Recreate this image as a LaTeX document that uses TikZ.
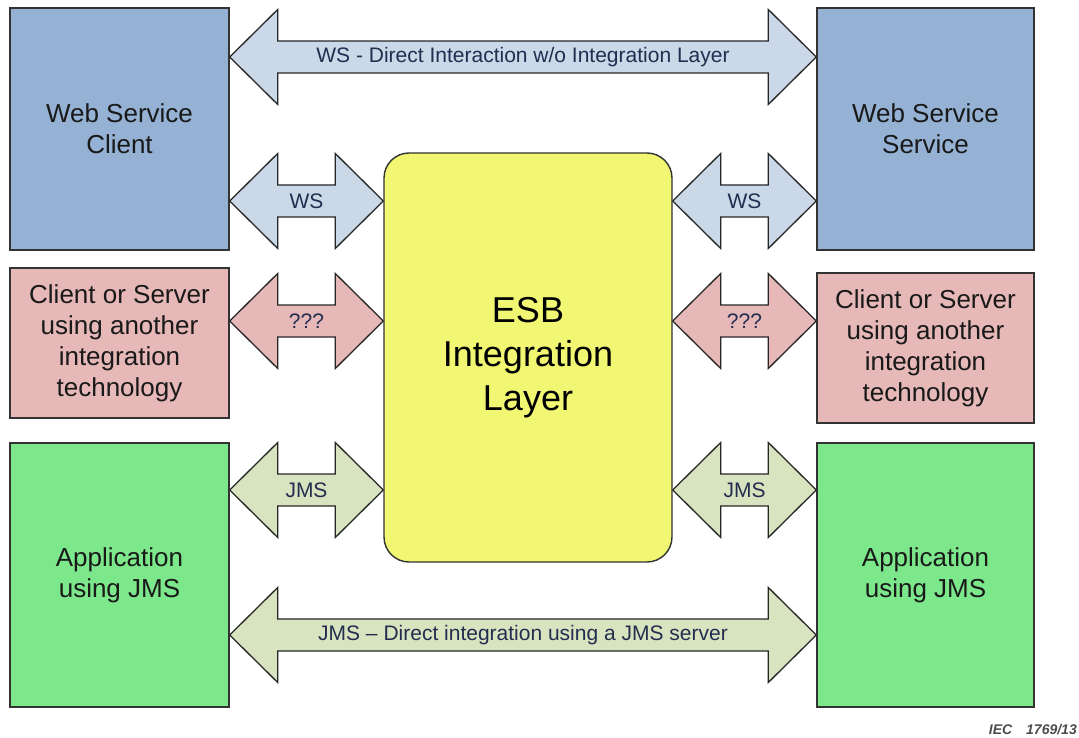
\documentclass[tikz,border=0pt]{standalone}
\usepackage{fontspec}
\setmainfont{Liberation Sans}
\usetikzlibrary{calc}
\definecolor{boxBlue}{RGB}{149,178,212}
\definecolor{arrowBlue}{RGB}{202,216,232}
\definecolor{boxPink}{RGB}{230,185,184}
\definecolor{boxGreen}{RGB}{125,232,139}
\definecolor{arrowGreen}{RGB}{216,228,191}
\definecolor{esbYellow}{RGB}{242,247,115}
\definecolor{labelNavy}{RGB}{35,45,80}

\tikzset{
  sysbox/.style={draw=black!80, line width=1.4pt, minimum width=219pt, align=center,
    font=\fontsize{26}{31}\selectfont, text=black!90},
  arrowbody/.style={draw=black!85, line width=1.3pt, line join=miter},
  arrowlabel/.style={font=\fontsize{21}{24}\selectfont, text=labelNavy},
}

% fat double arrow: fill, from, to, label, name
\newcommand{\bigarrow}[5]{%
  \draw[arrowbody, fill=#1] (#2) -- ++(48,-47.5) -- ++(0,31.5)
    -- ($(#3)+(-48,-16)$) -- ++(0,-31.5) -- (#3) -- ++(-48,47.5) -- ++(0,-31.5)
    -- ($(#2)+(48,16)$) -- ++(0,31.5) -- cycle;
  \node[arrowlabel] (#5) at ($(#2)!0.5!(#3)$) {#4};
}

\begin{document}
\begin{tikzpicture}[x=1pt, y=-1pt]
  \useasboundingbox (0,0) rectangle (1079,738);

  % boxes on both sides
  \node[sysbox, fill=boxBlue, minimum height=242pt] (wsc) at (119.5,129) {Web Service\\Client};
  \node[sysbox, fill=boxBlue, minimum height=242pt, minimum width=217pt] (wss) at (925.5,129) {Web Service\\Service};
  \node[sysbox, fill=boxPink, minimum height=150pt] (oc) at (119.5,343) {Client or Server\\using another\\integration\\technology};
  \node[sysbox, fill=boxPink, minimum height=150pt, minimum width=217pt] (os) at (925.5,348) {Client or Server\\using another\\integration\\technology};
  \node[sysbox, fill=boxGreen, minimum height=264pt] (appc) at (119.5,575) {Application\\using JMS};
  \node[sysbox, fill=boxGreen, minimum height=264pt, minimum width=217pt] (apps) at (925.5,575) {Application\\using JMS};

  % integration layer
  \node[draw=black!80, line width=1.4pt, fill=esbYellow, rounded corners=25pt,
    minimum width=288pt, minimum height=409pt, align=center,
    font=\fontsize{36}{44}\selectfont] (esb) at (528,357.5) {ESB\\Integration\\Layer};

  % row levels of the arrows
  \coordinate (rowTop) at (0,57);
  \coordinate (rowWS) at (0,201);
  \coordinate (rowOther) at (0,321);
  \coordinate (rowJMS) at (0,490);
  \coordinate (rowBottom) at (0,635);

  \bigarrow{arrowBlue}{wsc.east |- rowTop}{wss.west |- rowTop}{WS - Direct Interaction w/o Integration Layer}{wsDirect}
  \bigarrow{arrowBlue}{wsc.east |- rowWS}{esb.west |- rowWS}{WS}{wsLeft}
  \bigarrow{arrowBlue}{esb.east |- rowWS}{wss.west |- rowWS}{WS}{wsRight}
  \bigarrow{boxPink}{oc.east |- rowOther}{esb.west |- rowOther}{???}{otherLeft}
  \bigarrow{boxPink}{esb.east |- rowOther}{os.west |- rowOther}{???}{otherRight}
  \bigarrow{arrowGreen}{appc.east |- rowJMS}{esb.west |- rowJMS}{JMS}{jmsLeft}
  \bigarrow{arrowGreen}{esb.east |- rowJMS}{apps.west |- rowJMS}{JMS}{jmsRight}
  \bigarrow{arrowGreen}{appc.east |- rowBottom}{apps.west |- rowBottom}{JMS – Direct integration using a JMS server}{jmsDirect}

  \node[anchor=east, inner sep=0pt, text=black!70, font=\fontsize{14}{16}\selectfont\bfseries\itshape] (iec) at (1077,730) {IEC\hspace{1em}1769/13};
\end{tikzpicture}
\end{document}
